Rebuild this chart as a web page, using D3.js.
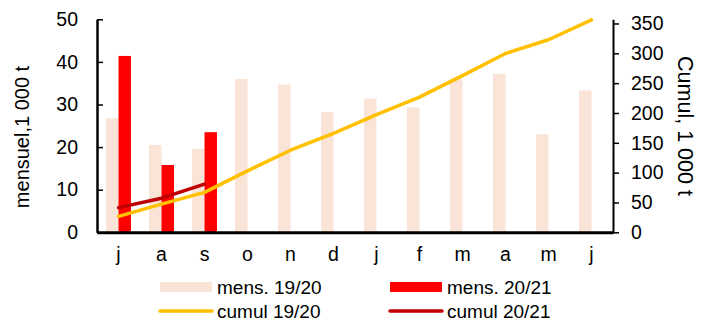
<!DOCTYPE html>
<html>
<head>
<meta charset="utf-8">
<script src="https://cdn.jsdelivr.net/npm/d3@7"></script>
<style>
  html, body { margin: 0; padding: 0; background: #fff; }
  svg { display: block; font-family: "Liberation Sans", Arial, sans-serif; }
</style>
</head>
<body>
<svg id="chart" width="707" height="322"></svg>
<script>
// Months of the marketing year (July to June)
const months = ["j", "a", "s", "o", "n", "d", "j", "f", "m", "a", "m", "j"];

// Monthly volumes, 1 000 t
const mens1920 = [26.8, 20.5, 19.6, 36.0, 34.7, 28.2, 31.4, 29.3, 36.0, 37.2, 23.0, 33.3];
const mens2021 = [41.4, 15.8, 23.5];

// Cumulative volumes, 1 000 t
const cumul1920 = [26.8, 47.3, 66.9, 102.9, 137.6, 165.8, 197.2, 226.5, 262.5, 299.7, 322.7, 356.0];
const cumul2021 = [41.4, 57.2, 80.7];

// Axis ticks
const leftTicks = [0, 10, 20, 30, 40, 50];
const rightTicks = [0, 50, 100, 150, 200, 250, 300, 350];

const colors = {
  mens1920: "#FAE3D7",
  mens2021: "#FF0000",
  cumul1920: "#FFC000",
  cumul2021: "#C00000"
};

const svg = d3.select("#chart");
const plotL = 97, plotR = 613, plotT = 19.3, plotB = 232.3;

const x = d3.scaleBand().domain(d3.range(months.length)).range([plotL, plotR]);
const yL = d3.scaleLinear().domain([0, 50]).range([plotB, plotT]);
const yR = d3.scaleLinear().domain([0, 357]).range([plotB, plotT]);
const barW = x.bandwidth() * 0.29;
const cx = i => x(i) + x.bandwidth() / 2;

// Bars: 19/20 to the left of centre, 20/21 to the right
svg.append("g").selectAll("rect").data(mens1920).join("rect")
  .attr("x", (d, i) => cx(i) - barW)
  .attr("y", d => yL(d))
  .attr("width", barW)
  .attr("height", d => yL(0) - yL(d))
  .attr("fill", colors.mens1920);

svg.append("g").selectAll("rect").data(mens2021).join("rect")
  .attr("x", (d, i) => cx(i))
  .attr("y", d => yL(d))
  .attr("width", barW)
  .attr("height", d => yL(0) - yL(d))
  .attr("fill", colors.mens2021);

// Cumulative lines on the right axis
const line = d3.line().x((d, i) => cx(i)).y(d => yR(d));
svg.append("path").datum(cumul1920).attr("d", line)
  .attr("fill", "none").attr("stroke", colors.cumul1920)
  .attr("stroke-width", 3.5).attr("stroke-linejoin", "round").attr("stroke-linecap", "round");
svg.append("path").datum(cumul2021).attr("d", line)
  .attr("fill", "none").attr("stroke", colors.cumul2021)
  .attr("stroke-width", 3.5).attr("stroke-linejoin", "round").attr("stroke-linecap", "round");

// Left axis (ticks pointing inward)
const axL = svg.append("g").attr("transform", `translate(${plotL},0)`)
  .call(d3.axisLeft(yL).tickValues(leftTicks).tickSizeInner(-6).tickSizeOuter(0).tickPadding(19));
axL.select(".domain").attr("stroke", "#000").attr("stroke-width", 2.5);
axL.selectAll(".tick line").attr("stroke", "#000").attr("stroke-width", 1.5);
axL.selectAll("text").attr("font-size", 19.5).attr("fill", "#000");

// Right axis (ticks pointing outward)
const axR = svg.append("g").attr("transform", `translate(${plotR},0)`)
  .call(d3.axisRight(yR).tickValues(rightTicks).tickSize(6).tickSizeOuter(0).tickPadding(12));
axR.select(".domain").attr("stroke", "#000").attr("stroke-width", 2);
axR.selectAll(".tick line").attr("stroke", "#000").attr("stroke-width", 1.5);
axR.selectAll("text").attr("font-size", 19.5).attr("fill", "#000");

// Bottom axis
const axB = svg.append("g").attr("transform", `translate(0,${plotB})`)
  .call(d3.axisBottom(x).tickFormat(i => months[i]).tickSize(0).tickPadding(15));
axB.select(".domain").attr("stroke", "#000").attr("stroke-width", 3);
axB.selectAll("text").attr("font-size", 19.5).attr("fill", "#000");

// Axis titles
svg.append("text")
  .attr("transform", "translate(29,137) rotate(-90)")
  .attr("text-anchor", "middle")
  .attr("font-size", 20)
  .text("mensuel,1 000 t");
svg.append("text")
  .attr("transform", "translate(678,126) rotate(90)")
  .attr("text-anchor", "middle")
  .attr("font-size", 21.5)
  .text("Cumul, 1 000 t");

// Legend
const legend = [
  { label: "mens. 19/20", key: "mens1920", type: "bar", x: 160, y: 287 },
  { label: "mens. 20/21", key: "mens2021", type: "bar", x: 390, y: 287 },
  { label: "cumul 19/20", key: "cumul1920", type: "line", x: 160, y: 311 },
  { label: "cumul 20/21", key: "cumul2021", type: "line", x: 390, y: 311 }
];
const lg = svg.append("g").selectAll("g").data(legend).join("g")
  .attr("transform", d => `translate(${d.x},${d.y})`);
lg.filter(d => d.type === "bar").append("rect")
  .attr("x", 0).attr("y", -5).attr("width", 52).attr("height", 10)
  .attr("fill", d => colors[d.key]);
lg.filter(d => d.type === "line").append("line")
  .attr("x1", 0).attr("x2", 52).attr("y1", 0).attr("y2", 0)
  .attr("stroke", d => colors[d.key]).attr("stroke-width", 3.5).attr("stroke-linecap", "round");
lg.append("text")
  .attr("x", 57).attr("y", 0).attr("dy", "0.35em")
  .attr("font-size", 19)
  .text(d => d.label);
</script>
</body>
</html>
